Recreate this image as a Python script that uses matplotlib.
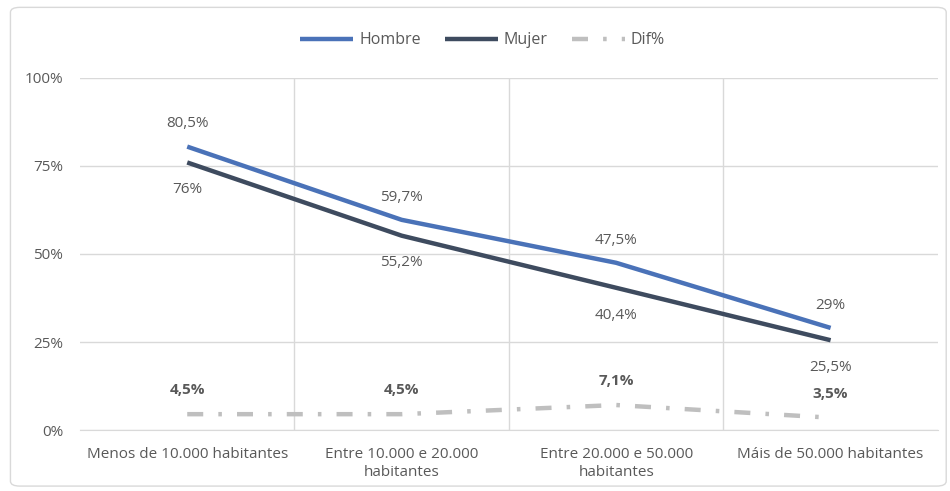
import numpy as np
import matplotlib.pyplot as plt
from matplotlib.patches import FancyBboxPatch
from matplotlib.lines import Line2D

categorias = ['Menos de 10.000 habitantes', 'Entre 10.000 e 20.000\nhabitantes',
              'Entre 20.000 e 50.000\nhabitantes', 'Máis de 50.000 habitantes']
hombre = [80.5, 59.7, 47.5, 29.0]
mujer = [76.0, 55.2, 40.4, 25.5]
dif = [4.5, 4.5, 7.1, 3.5]
etq_hombre = ['80,5%', '59,7%', '47,5%', '29%']
etq_mujer = ['76%', '55,2%', '40,4%', '25,5%']
etq_dif = ['4,5%', '4,5%', '7,1%', '3,5%']

plt.rcParams['font.family'] = ['Open Sans', 'DejaVu Sans']
gris = '#595959'
fs = 11

fig = plt.figure(figsize=(9.5, 4.91), dpi=100)
marco = FancyBboxPatch((0.011, 0.01), 0.985, 0.975, boxstyle='round,pad=0,rounding_size=0.01',
                       transform=fig.transFigure, fc='white', ec='#d9d9d9', lw=1, zorder=-10)
fig.patches.append(marco)
ax = fig.add_axes([0.0842, 0.1242, 0.903, 0.717])
ax.patch.set_alpha(0)

x = np.arange(len(categorias))
l1, = ax.plot(x, hombre, color='#4a72b8', lw=3.2, label='Hombre', solid_capstyle='butt')
l2, = ax.plot(x, mujer, color='#3e4b5f', lw=3.2, label='Mujer', solid_capstyle='butt')
l3, = ax.plot(x, dif, color='#bfbfbf', lw=3.2, dashes=(3.6, 3.4, 0.8, 3.4), label='Dif%')

for i in range(len(x)):
    ax.text(x[i], hombre[i] + 4.3, etq_hombre[i], ha='center', va='bottom', color=gris, fontsize=fs)
    ax.text(x[i], mujer[i] - 5.6, etq_mujer[i], ha='center', va='top', color=gris, fontsize=fs)
    ax.text(x[i], dif[i] + 4.85, etq_dif[i], ha='center', va='bottom', color=gris, fontsize=fs,
            fontweight='bold')

ax.set_xlim(-0.5, 3.5)
ax.set_ylim(0, 100)
ax.set_yticks([0, 25, 50, 75, 100])
ax.set_yticklabels(['0%', '25%', '50%', '75%', '100%'])
ax.set_xticks(x)
ax.set_xticklabels(categorias, linespacing=1.3)
ax.set_xticks([0.5, 1.5, 2.5], minor=True)
ax.grid(axis='y', color='#d9d9d9', lw=1)
ax.grid(axis='x', which='minor', color='#d9d9d9', lw=1)
ax.tick_params(which='both', length=0, colors=gris, labelsize=fs)
ax.tick_params(axis='x', pad=12)
ax.tick_params(axis='y', pad=12)
for s in ['top', 'right', 'left']:
    ax.spines[s].set_visible(False)
ax.spines['bottom'].set_color('#d9d9d9')
ax.set_axisbelow(True)

# muestra de la leyenda para Dif%: guion, punto, punto
h3 = Line2D([], [], color='#bfbfbf', lw=3.2, dashes=(3.6, 3.4, 0.8, 3.4, 0.8, 3.4))
leg = fig.legend([l1, l2, h3], ['Hombre', 'Mujer', 'Dif%'], loc='center',
                 bbox_to_anchor=(0.508, 0.918), ncol=3, frameon=False,
                 fontsize=11.5, handlelength=3.3, columnspacing=1.5, handletextpad=0.4)
for t in leg.get_texts():
    t.set_color(gris)

fig.savefig('out.png', dpi=100)
